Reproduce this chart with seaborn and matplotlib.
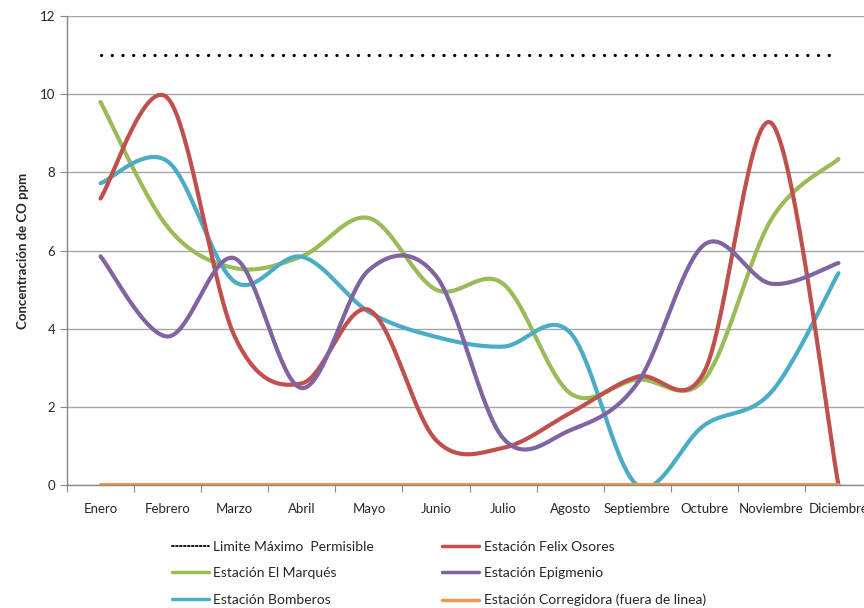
import numpy as np
import pandas as pd
import matplotlib
matplotlib.use("Agg")
import matplotlib.pyplot as plt
import seaborn as sns

# datos mensuales (ppm de CO)
meses = ['Enero', 'Febrero', 'Marzo', 'Abril', 'Mayo', 'Junio', 'Julio',
         'Agosto', 'Septiembre', 'Octubre', 'Noviembre', 'Diciembre']
limite = [11, 11, 11, 11, 11, 11, 11, 11, 11, 11, 11, 11]
felix_osores = [7.33, 9.9, 3.8, 2.6, 4.48, 1.15, 0.95, 1.84, 2.77, 2.9, 9.26, 0.0]
el_marques = [9.8, 6.6, 5.55, 5.85, 6.83, 5.0, 5.15, 2.35, 2.7, 2.7, 6.8, 8.34]
epigmenio = [5.85, 3.8, 5.8, 2.48, 5.5, 5.35, 1.2, 1.4, 2.6, 6.15, 5.15, 5.68]
bomberos = [7.72, 8.28, 5.2, 5.84, 4.43, 3.79, 3.54, 3.9, 0.0, 1.53, 2.38, 5.42]
corregidora = [0, 0, 0, 0, 0, 0, 0, 0, 0, 0, 0, 0]

series = [
    ('Limite Máximo  Permisible', limite, 'black'),
    ('Estación El Marqués', el_marques, '#9bbb59'),
    ('Estación Bomberos', bomberos, '#4bacc6'),
    ('Estación Felix Osores', felix_osores, '#c0504d'),
    ('Estación Epigmenio', epigmenio, '#8064a2'),
    ('Estación Corregidora (fuera de linea)', corregidora, '#f79646'),
]


def suavizar(y, n=40):
    # curva suavizada tipo Excel (bezier con tangentes catmull-rom)
    y = np.asarray(y, dtype=float)
    x = np.arange(len(y), dtype=float)
    t = np.linspace(0, 1, n)
    xs, ys = [], []
    for i in range(len(y) - 1):
        a = max(i - 1, 0)
        b = min(i + 2, len(y) - 1)
        px = [x[i], x[i] + (x[i + 1] - x[a]) / 6, x[i + 1] - (x[b] - x[i]) / 6, x[i + 1]]
        py = [y[i], y[i] + (y[i + 1] - y[a]) / 6, y[i + 1] - (y[b] - y[i]) / 6, y[i + 1]]
        w = [(1 - t) ** 3, 3 * (1 - t) ** 2 * t, 3 * (1 - t) * t ** 2, t ** 3]
        xs.extend(sum(wk * pk for wk, pk in zip(w, px)))
        ys.extend(sum(wk * pk for wk, pk in zip(w, py)))
    return np.array(xs), np.array(ys)


sns.set_style('white')
plt.rcParams['font.family'] = ['Lato', 'DejaVu Sans']

fig = plt.figure(figsize=(8.64, 6.08), dpi=100)
ax = fig.add_axes([67 / 864, 123 / 608, 805 / 864, 469 / 608])

for nombre, valores, color in series:
    if nombre.startswith('Limite'):
        sns.lineplot(x=np.arange(12), y=valores, color=color, ax=ax, label=nombre,
                     linewidth=2.3, linestyle=(0, (0.05, 3.3)),
                     dash_capstyle='round', solid_capstyle='round')
    else:
        xs, ys = suavizar(valores)
        sns.lineplot(x=xs, y=ys, color=color, ax=ax, label=nombre, sort=False,
                     estimator=None, linewidth=3.0)

ax.set_xlim(-0.5, 11.5)
ax.set_ylim(0, 12)
ax.set_yticks(range(0, 13, 2))
ax.tick_params(axis='y', labelsize=9.5, length=5, color='#888888', direction='out', left=True)
ax.yaxis.grid(True, color='#a6a6a6', linewidth=1)
ax.set_axisbelow(True)

ax.set_xticks(np.arange(-0.5, 12, 1))
ax.set_xticklabels([])
ax.set_xticks(np.arange(12), minor=True)
ax.set_xticklabels(meses, minor=True)
ax.tick_params(axis='x', which='major', length=5, color='#888888', direction='out', bottom=True)
ax.tick_params(axis='x', which='minor', length=0, labelsize=9.5, pad=13)

for lado in ['top', 'right']:
    ax.spines[lado].set_visible(False)
for lado in ['left', 'bottom']:
    ax.spines[lado].set_color('#888888')
    ax.spines[lado].set_linewidth(1)

ax.set_ylabel('Concentración de CO ppm', fontsize=9.5, fontweight='bold', labelpad=8)

h, l = ax.get_legend_handles_labels()
ax.legend(h, l, ncol=2, loc='upper left', bbox_to_anchor=(92 / 805, -0.092),
          frameon=False, fontsize=10, handlelength=2.7, handletextpad=0.3,
          columnspacing=4.9, labelspacing=1.05)
leg = ax.get_legend()
leg.get_lines()[0].set_linewidth(1.3)
leg.get_lines()[0].set_linestyle((0, (1, 1.2)))
for ln in leg.get_lines()[1:]:
    ln.set_linewidth(2.5)

fig.savefig('out.png', dpi=100)
